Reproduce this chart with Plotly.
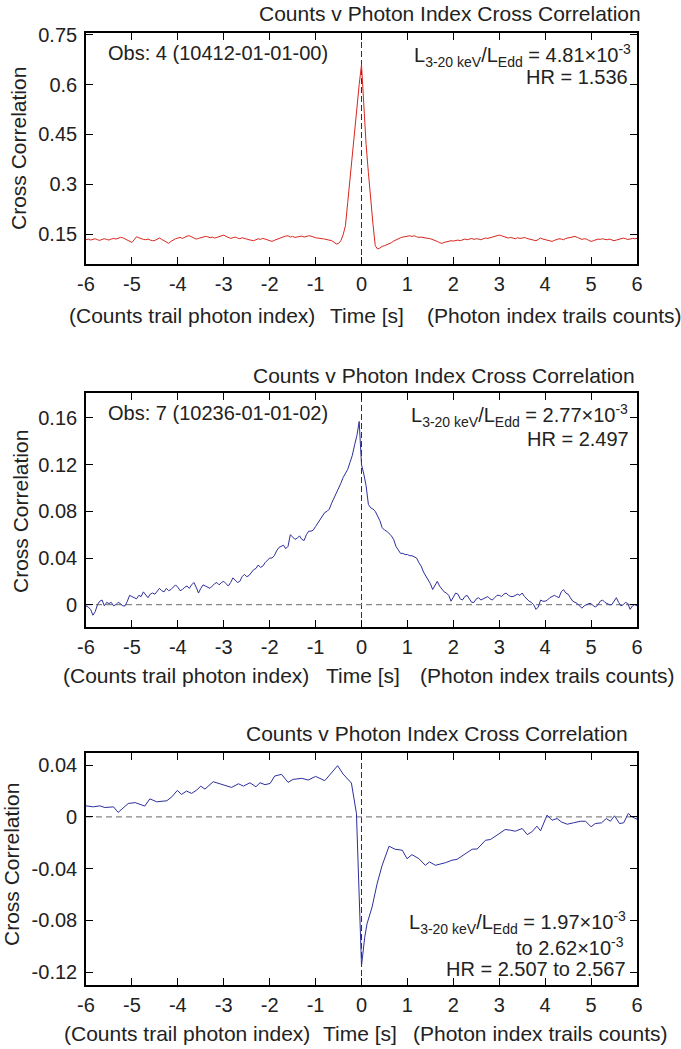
import plotly.graph_objects as go

W, H = 681, 1049

# ---------------- data ----------------
# time lag grid (s) for panels 1 and 2 (0.05 s steps, -6 .. 6)
lag = [round(-6 + 0.05 * i, 2) for i in range(241)]

# Panel 1: Obs 4 (red)
cc_obs4 = [
    0.133, 0.135, 0.132, 0.134, 0.136, 0.133, 0.131, 0.134, 0.136, 0.134, 0.132, 0.135, 0.137, 0.135, 0.138, 0.140, 0.139, 0.135, 0.131, 0.128,
    0.125, 0.133, 0.142, 0.139, 0.136, 0.134, 0.133, 0.135, 0.132, 0.130, 0.131, 0.135, 0.138, 0.134, 0.130, 0.127, 0.122, 0.128, 0.133, 0.136,
    0.138, 0.140, 0.137, 0.141, 0.144, 0.145, 0.141, 0.138, 0.135, 0.137, 0.139, 0.141, 0.143, 0.142, 0.139, 0.141, 0.138, 0.140, 0.143, 0.145,
    0.147, 0.143, 0.140, 0.137, 0.139, 0.141, 0.138, 0.136, 0.139, 0.138, 0.135, 0.133, 0.131, 0.130, 0.133, 0.136, 0.134, 0.137, 0.135, 0.132,
    0.130, 0.128, 0.131, 0.134, 0.138, 0.140, 0.142, 0.144, 0.145, 0.141, 0.143, 0.140, 0.142, 0.142, 0.144, 0.141, 0.143, 0.145, 0.144, 0.141,
    0.139, 0.138, 0.138, 0.136, 0.135, 0.134, 0.132, 0.130, 0.126, 0.120, 0.122, 0.130, 0.148, 0.175, 0.245, 0.320, 0.395, 0.465, 0.540, 0.600,
    0.660, 0.520, 0.420, 0.335, 0.250, 0.180, 0.115, 0.105, 0.108, 0.113, 0.115, 0.118, 0.120, 0.124, 0.129, 0.133, 0.136, 0.139, 0.141, 0.143,
    0.144, 0.145, 0.143, 0.145, 0.142, 0.140, 0.141, 0.139, 0.138, 0.137, 0.136, 0.134, 0.132, 0.128, 0.124, 0.122, 0.125, 0.127, 0.128, 0.130,
    0.129, 0.131, 0.132, 0.130, 0.133, 0.135, 0.133, 0.135, 0.137, 0.134, 0.136, 0.135, 0.133, 0.136, 0.138, 0.137, 0.139, 0.141, 0.144, 0.146,
    0.147, 0.145, 0.143, 0.140, 0.138, 0.140, 0.138, 0.136, 0.139, 0.137, 0.138, 0.140, 0.137, 0.135, 0.134, 0.131, 0.130, 0.134, 0.138, 0.135,
    0.133, 0.131, 0.129, 0.128, 0.131, 0.134, 0.136, 0.135, 0.133, 0.137, 0.139, 0.141, 0.143, 0.143, 0.140, 0.137, 0.134, 0.136, 0.135, 0.131,
    0.128, 0.130, 0.133, 0.135, 0.134, 0.136, 0.134, 0.133, 0.135, 0.132, 0.130, 0.132, 0.134, 0.136, 0.138, 0.136, 0.134, 0.135, 0.137, 0.136,
    0.137,
]

# Panel 2: Obs 7 (blue)
cc_obs7 = [
    -0.001, -0.002, -0.004, -0.009, -0.006, 0.000, 0.003, 0.004, -0.001, 0.002, 0.001, 0.002, -0.001, 0.000, 0.002, 0.001, -0.001, -0.001, 0.003, 0.008,
    0.007, 0.006, 0.005, 0.008, 0.007, 0.011, 0.008, 0.006, 0.009, 0.010, 0.009, 0.012, 0.014, 0.012, 0.011, 0.014, 0.012, 0.013, 0.015, 0.017,
    0.015, 0.012, 0.013, 0.015, 0.016, 0.014, 0.017, 0.019, 0.015, 0.010, 0.014, 0.017, 0.016, 0.015, 0.014, 0.016, 0.018, 0.019, 0.017, 0.019,
    0.020, 0.018, 0.016, 0.019, 0.023, 0.021, 0.019, 0.020, 0.024, 0.026, 0.024, 0.025, 0.028, 0.030, 0.031, 0.034, 0.032, 0.033, 0.036, 0.038,
    0.040, 0.040, 0.042, 0.046, 0.049, 0.050, 0.051, 0.048, 0.050, 0.060, 0.058, 0.056, 0.057, 0.059, 0.056, 0.055, 0.060, 0.063, 0.063, 0.064,
    0.067, 0.070, 0.072, 0.075, 0.079, 0.080, 0.082, 0.087, 0.091, 0.095, 0.099, 0.104, 0.109, 0.112, 0.116, 0.122, 0.128, 0.137, 0.145, 0.157,
    0.120, 0.112, 0.102, 0.086, 0.083, 0.082, 0.080, 0.076, 0.072, 0.066, 0.064, 0.063, 0.061, 0.059, 0.056, 0.050, 0.047, 0.044, 0.044, 0.043,
    0.043, 0.042, 0.042, 0.041, 0.040, 0.036, 0.033, 0.028, 0.025, 0.021, 0.018, 0.013, 0.017, 0.020, 0.016, 0.013, 0.011, 0.010, 0.008, 0.003,
    0.006, 0.010, 0.009, 0.005, 0.004, 0.007, 0.008, 0.005, 0.002, 0.002, 0.005, 0.006, 0.004, 0.005, 0.006, 0.007, 0.005, 0.004, 0.006, 0.008,
    0.008, 0.007, 0.009, 0.010, 0.008, 0.007, 0.007, 0.008, 0.009, 0.008, 0.010, 0.007, 0.005, 0.003, 0.002, 0.000, -0.004, -0.002, 0.004, 0.003,
    0.003, 0.004, 0.006, 0.007, 0.008, 0.007, 0.006, 0.011, 0.013, 0.010, 0.009, 0.006, 0.003, 0.002, 0.001, -0.001, -0.003, -0.001, 0.000, 0.001,
    0.001, -0.001, -0.002, 0.000, 0.003, 0.004, 0.002, 0.001, 0.000, 0.000, 0.003, 0.006, 0.002, -0.001, 0.000, 0.002, 0.001, -0.004, -0.001, 0.000,
    -0.001,
]

# Panel 3: combined obs (blue, coarser sampling)
lag3 = [
    -6.00, -5.84, -5.70, -5.59, -5.40, -5.30, -5.08, -4.93, -4.72, -4.61, -4.46, -4.24, -4.13, -4.01, -3.92,
    -3.81, -3.70, -3.59, -3.50, -3.41, -3.23, -3.01, -2.83, -2.68, -2.57, -2.43, -2.30, -2.21, -2.10, -1.99,
    -1.89, -1.74, -1.60, -1.49, -1.30, -1.16, -1.00, -0.80, -0.52, -0.40, -0.22, -0.11, 0.00,
    0.07, 0.12, 0.23, 0.34, 0.45, 0.56, 0.60, 0.73, 0.89, 0.99, 1.10, 1.25, 1.39, 1.48, 1.61, 1.83, 1.97,
    2.08, 2.26, 2.41, 2.52, 2.70, 2.81, 2.99, 3.13, 3.24, 3.35, 3.50, 3.61, 3.71, 3.82, 3.90, 4.04, 4.15,
    4.26, 4.35, 4.48, 4.62, 4.77, 4.88, 5.00, 5.09, 5.23, 5.33, 5.42, 5.51, 5.62, 5.71, 5.81, 5.89, 6.00,
]
cc_comb = [
    0.0085, 0.0077, 0.0085, 0.0072, 0.0077, 0.0034, 0.0103, 0.0110, 0.0083, 0.0139, 0.0116, 0.0124, 0.0155, 0.0204, 0.0173,
    0.0199, 0.0181, 0.0206, 0.0237, 0.0214, 0.0271, 0.0250, 0.0227, 0.0255, 0.0237, 0.0263, 0.0232, 0.0263, 0.0248, 0.0258,
    0.0315, 0.0328, 0.0266, 0.0289, 0.0297, 0.0284, 0.0312, 0.0279, 0.0395, 0.0330, 0.0261, 0.0026, -0.1150,
    -0.0930, -0.0826, -0.0697, -0.0516, -0.0374, -0.0271, -0.0227, -0.0250, -0.0258, -0.0323, -0.0292, -0.0323, -0.0374, -0.0348, -0.0374, -0.0354, -0.0335,
    -0.0328, -0.0289, -0.0250, -0.0248, -0.0181, -0.0175, -0.0129, -0.0098, -0.0103, -0.0111, -0.0090, -0.0137, -0.0116, -0.0072, -0.0108, 0.0013, -0.0026,
    -0.0013, -0.0039, -0.0057, -0.0046, -0.0034, -0.0034, -0.0077, -0.0052, -0.0046, -0.0013, -0.0034, 0.0008, -0.0052, -0.0046, 0.0026, 0.0000, -0.0018,
]

x_ticks = [-6, -5, -4, -3, -2, -1, 0, 1, 2, 3, 4, 5, 6]
y1_ticks = [0.15, 0.3, 0.45, 0.6, 0.75]
y1_text = ["0.15", "0.3", "0.45", "0.6", "0.75"]
y2_ticks = [0, 0.04, 0.08, 0.12, 0.16]
y2_text = ["0", "0.04", "0.08", "0.12", "0.16"]
y3_ticks = [-0.12, -0.08, -0.04, 0, 0.04]
y3_text = ["-0.12", "-0.08", "-0.04", "0", "0.04"]

# ---------------- layout helpers ----------------
FONT = "Liberation Sans, Arial, Helvetica, sans-serif"
TXT = "#222222"
RED = "#d8261e"
BLUE = "#2d2f9c"


def px(x):
    return x / W


def py(y):
    return 1 - y / H


fig = go.Figure()
fig.add_trace(go.Scatter(x=lag, y=cc_obs4, mode="lines", line=dict(color=RED, width=1),
                         xaxis="x", yaxis="y", showlegend=False))
fig.add_trace(go.Scatter(x=lag, y=cc_obs7, mode="lines", line=dict(color=BLUE, width=1),
                         xaxis="x2", yaxis="y2", showlegend=False))
fig.add_trace(go.Scatter(x=lag3, y=cc_comb, mode="lines", line=dict(color=BLUE, width=1),
                         xaxis="x3", yaxis="y3", showlegend=False))

xdom = [px(86), px(637)]
panels = [
    # (top px, bottom px, yrange, yticks, ytext)
    (33, 264, [0.06, 0.755], y1_ticks, y1_text),
    (393, 627, [-0.0191, 0.1814], y2_ticks, y2_text),
    (752.7, 985, [-0.1298, 0.0495], y3_ticks, y3_text),
]

common = dict(showline=True, linecolor="black", linewidth=1.6, mirror="ticks",
              ticks="inside", ticklen=7, tickwidth=1.2, tickcolor="black",
              showgrid=False, zeroline=False, automargin=False,
              tickfont=dict(family=FONT, size=20, color=TXT))

layout = dict(width=W, height=H, paper_bgcolor="white", plot_bgcolor="white",
              margin=dict(l=0, r=0, t=0, b=0, autoexpand=False),
              font=dict(family=FONT, color=TXT), showlegend=False)

for i, (top, bot, yr, yt, ytx) in enumerate(panels):
    sfx = "" if i == 0 else str(i + 1)
    layout["xaxis" + sfx] = dict(common, domain=xdom, range=[-6, 6], anchor="y" + sfx,
                                 tickvals=x_ticks, ticktext=[str(v) for v in x_ticks],
                                 ticklabelstandoff=1)
    layout["yaxis" + sfx] = dict(common, domain=[py(bot), py(top)], range=yr, anchor="x" + sfx,
                                 tickvals=yt, ticktext=ytx, ticklabelstandoff=3)

fig.update_layout(**layout)

# dashed reference lines
shapes = []
for i in range(3):
    sfx = "" if i == 0 else str(i + 1)
    shapes.append(dict(type="line", xref="x" + sfx, yref="y" + sfx + " domain",
                       x0=0, x1=0, y0=0, y1=1, layer="below",
                       line=dict(color="#333333", width=1, dash="6px,3px")))
for sfx in ["2", "3"]:
    shapes.append(dict(type="line", xref="x" + sfx + " domain", yref="y" + sfx,
                       x0=0, x1=1, y0=0, y1=0, layer="below",
                       line=dict(color="#888888", width=1.2, dash="6px,4px")))
fig.update_layout(shapes=shapes)

ann = []


def add(text, x, y, xanchor="center", size=20, angle=0):
    ann.append(dict(text=text, x=px(x), y=py(y), xref="paper", yref="paper",
                    xanchor=xanchor, yanchor="middle", showarrow=False, textangle=angle,
                    font=dict(family=FONT, size=size, color=TXT)))


TITLE = "Counts v Photon Index Cross Correlation"
YLAB = "Cross Correlation"
CAP_L = "(Counts trail photon index)"
CAP_M = "Time [s]"
CAP_R = "(Photon index trails counts)"

# panel 1
add(TITLE, 643, 14, "right", 21)
add(YLAB, 18, 149, angle=-90, size=21)
add(CAP_L, 192, 315, size=21)
add(CAP_M, 367, 315, size=21)
add(CAP_R, 554, 315, size=21)
add("Obs: 4 (10412-01-01-00)", 106, 53, "left")
add("L<sub>3-20 keV</sub>/L<sub>Edd</sub> = 4.81×10<sup>-3</sup>", 633, 55, "right")
add("HR = 1.536", 630, 77, "right")

# panel 2
add(TITLE, 637, 375, "right", 21)
add(YLAB, 20, 512, angle=-90, size=21)
add(CAP_L, 186, 675, size=21)
add(CAP_M, 363, 675, size=21)
add(CAP_R, 547, 675, size=21)
add("Obs: 7 (10236-01-01-02)", 106, 413, "left")
add("L<sub>3-20 keV</sub>/L<sub>Edd</sub> = 2.77×10<sup>-3</sup>", 630, 415, "right")
add("HR = 2.497", 631, 439, "right")

# panel 3
add(TITLE, 630, 733, "right", 21)
add(YLAB, 11, 865, angle=-90, size=21)
add(CAP_L, 187, 1033, size=21)
add(CAP_M, 360, 1033, size=21)
add(CAP_R, 540, 1033, size=21)
add("L<sub>3-20 keV</sub>/L<sub>Edd</sub> = 1.97×10<sup>-3</sup>", 628, 922, "right")
add("to 2.62×10<sup>-3</sup>", 626, 946, "right")
add("HR = 2.507 to 2.567", 628, 969, "right")

fig.update_layout(annotations=ann)

fig.write_html("out.html", config={"displayModeBar": False},
               post_script="document.body.style.margin='0';document.body.style.padding='0';")
